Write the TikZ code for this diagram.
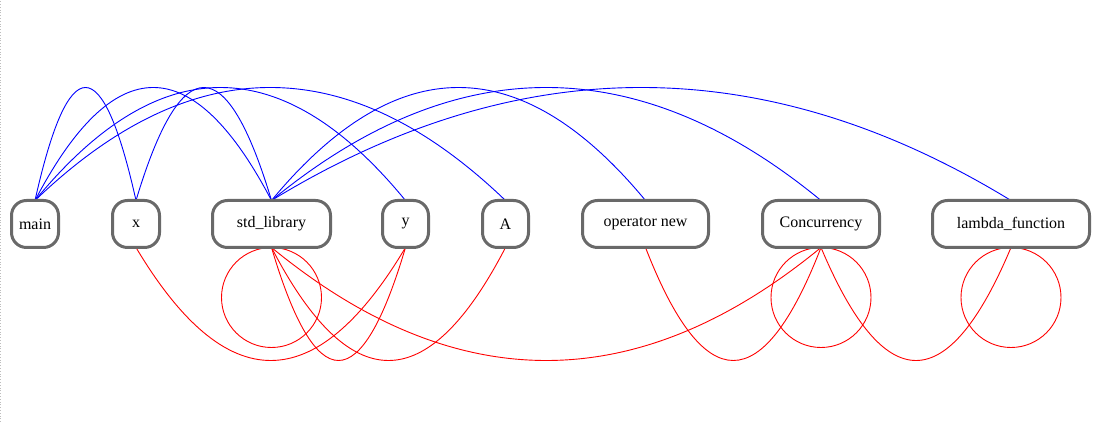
\documentclass[tikz,border=0pt]{standalone}
\usepackage{fontspec}
\setmainfont{Liberation Serif}
\usetikzlibrary{calc,backgrounds}
\definecolor{nodegray}{RGB}{105,105,105}
\definecolor{edgeblue}{RGB}{0,0,255}
\definecolor{edgered}{RGB}{255,0,0}
\definecolor{framegray}{RGB}{190,190,190}
\tikzset{
  box/.style={draw=nodegray, line width=3pt, rounded corners=15pt, fill=white,
    minimum height=47pt, inner sep=0pt, outer sep=0pt,
    font=\fontsize{16}{19}\selectfont},
  uparc/.style={draw=edgeblue, line width=0.9pt,
    to path={.. controls ($(\tikztostart)!1/3!(\tikztotarget)+(0,150.67)$)
      and ($(\tikztostart)!2/3!(\tikztotarget)+(0,150.67)$) .. (\tikztotarget)}},
  downarc/.style={draw=edgered, line width=0.9pt,
    to path={.. controls ($(\tikztostart)!1/3!(\tikztotarget)+(0,-150.67)$)
      and ($(\tikztostart)!2/3!(\tikztotarget)+(0,-150.67)$) .. (\tikztotarget)}},
  selfloop/.style={draw=edgered, line width=0.9pt}
}
\begin{document}
\begin{tikzpicture}[x=1pt,y=1pt]
  \useasboundingbox (0,0) rectangle (1098,422);
  \draw[framegray, dotted, line width=0.8pt] (0.5,0) -- (0.5,422);
  % nodes
  \node[box, minimum width=47pt]  (main)   at (35,198)    {main};
  \node[box, minimum width=47pt]  (x)      at (136,198)   {x};
  \node[box, minimum width=118pt] (std)    at (271.5,198) {std\_library};
  \node[box, minimum width=46pt]  (y)      at (405.5,198) {y};
  \node[box, minimum width=46pt]  (A)      at (505.5,198) {A};
  \node[box, minimum width=126pt] (opnew)  at (645.5,198) {operator new};
  \node[box, minimum width=117pt] (conc)   at (821,198)   {Concurrency};
  \node[box, minimum width=157pt] (lambda) at (1011,198)  {lambda\_function};
  \begin{pgfonlayer}{background}
    % blue arcs above
    \draw[uparc] (main.north) to (x.north);
    \draw[uparc] (main.north) to (std.north);
    \draw[uparc] (main.north) to (y.north);
    \draw[uparc] (main.north) to (A.north);
    \draw[uparc] (x.north) to (std.north);
    \draw[uparc] (std.north) to (opnew.north);
    \draw[uparc] (std.north) to (conc.north);
    \draw[uparc] (std.north) to (lambda.north);
    % red arcs below
    \draw[downarc] (x.south) to (y.south);
    \draw[downarc] (std.south) to (y.south);
    \draw[downarc] (std.south) to (A.south);
    \draw[downarc] (std.south) to (conc.south);
    \draw[downarc] (opnew.south) to (conc.south);
    \draw[downarc] (conc.south) to (lambda.south);
    % self loops
    \draw[selfloop] ([yshift=-50pt]std.south) circle[radius=50pt];
    \draw[selfloop] ([yshift=-50pt]conc.south) circle[radius=50pt];
    \draw[selfloop] ([yshift=-50pt]lambda.south) circle[radius=50pt];
  \end{pgfonlayer}
\end{tikzpicture}
\end{document}
